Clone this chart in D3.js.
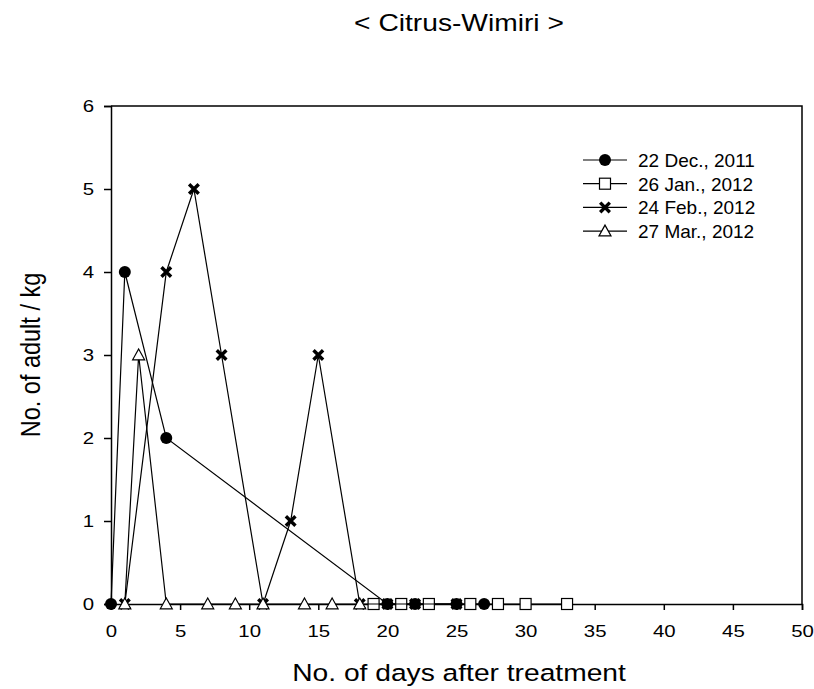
<!DOCTYPE html>
<html>
<head>
<meta charset="utf-8">
<script src="https://cdn.jsdelivr.net/npm/d3@7"></script>
<style>
  body { margin: 0; background: #fff; }
  text { font-family: "Liberation Sans", Arial, sans-serif; fill: #000; }
</style>
</head>
<body>
<div class="canvas"></div>
<script>
// data
const decDays = [0, 1, 4, 20, 22, 25, 27];
const decVals = [0, 4, 2, 0, 0, 0, 0];
const janDays = [19, 21, 23, 26, 28, 30, 33];
const janVals = [0, 0, 0, 0, 0, 0, 0];
const febDays = [1, 4, 6, 8, 11, 13, 15, 18, 20, 22, 25];
const febVals = [0, 4, 5, 3, 0, 1, 3, 0, 0, 0, 0];
const marDays = [1, 2, 4, 7, 9, 11, 14, 16, 18];
const marVals = [0, 3, 0, 0, 0, 0, 0, 0, 0];

const seriesNames = ['22 Dec., 2011', '26 Jan., 2012', '24 Feb., 2012', '27 Mar., 2012'];
const xTicks = [0, 5, 10, 15, 20, 25, 30, 35, 40, 45, 50];
const yTicks = [0, 1, 2, 3, 4, 5, 6];

const series = [
  {name: seriesNames[0], sym: 'circle', days: decDays, vals: decVals},
  {name: seriesNames[1], sym: 'square', days: janDays, vals: janVals},
  {name: seriesNames[2], sym: 'cross', days: febDays, vals: febVals},
  {name: seriesNames[3], sym: 'triangle', days: marDays, vals: marVals}
];

// dimensions
const width = 814, height = 689;
const margin = {top: 106, right: 12, bottom: 85, left: 111};
const graphWidth = width - margin.left - margin.right;
const graphHeight = height - margin.top - margin.bottom;
const stretch = 1.2; // the picture's text is a bit wide

const svg = d3.select('.canvas')
  .append('svg')
  .attr('width', width)
  .attr('height', height);

const graph = svg.append('g')
  .attr('transform', `translate(${margin.left},${margin.top})`);

// scales
const x = d3.scaleLinear().domain([0, 50]).range([0, graphWidth]);
const y = d3.scaleLinear().domain([0, 6]).range([graphHeight, 0]);

// frame (top and right)
graph.append('path')
  .attr('d', `M0,0H${graphWidth}V${graphHeight}`)
  .attr('fill', 'none')
  .attr('stroke', '#000')
  .attr('stroke-width', 1.5);

// axes
const xAxis = d3.axisBottom(x).tickValues(xTicks).tickSize(6).tickPadding(15).tickFormat(d3.format('d'));
const yAxis = d3.axisLeft(y).tickValues(yTicks).tickSize(7).tickPadding(7).tickFormat(d3.format('d'));

const xAxisGroup = graph.append('g')
  .attr('transform', `translate(0,${graphHeight})`)
  .call(xAxis);
const yAxisGroup = graph.append('g').call(yAxis);

[xAxisGroup, yAxisGroup].forEach(g => {
  g.select('.domain').attr('stroke-width', 1.5);
  g.selectAll('.tick line').attr('stroke-width', 1.5);
  g.selectAll('text')
    .style('font-size', '17px')
    .style('font-family', '"Liberation Sans", Arial, sans-serif')
    .attr('transform', `scale(${stretch},1)`);
});

// markers
const drawMarker = (sel, sym, cx, cy) => {
  if (sym === 'circle') {
    sel.append('circle').attr('cx', cx).attr('cy', cy).attr('r', 6).attr('fill', '#000');
  } else if (sym === 'square') {
    sel.append('rect').attr('x', cx - 5.5).attr('y', cy - 5.5).attr('width', 11).attr('height', 11)
      .attr('fill', '#fff').attr('stroke', '#000').attr('stroke-width', 1.2);
  } else if (sym === 'cross') {
    const s = 4.8;
    sel.append('path')
      .attr('d', `M${cx - s},${cy - s}L${cx + s},${cy + s}M${cx - s},${cy + s}L${cx + s},${cy - s}`)
      .attr('stroke', '#000').attr('stroke-width', 3.4).attr('fill', 'none');
  } else {
    const s = 6;
    sel.append('path')
      .attr('d', `M${cx},${cy - s}L${cx + s},${cy + s * 0.8}L${cx - s},${cy + s * 0.8}Z`)
      .attr('fill', '#fff').attr('stroke', '#000').attr('stroke-width', 1.2);
  }
};

const line = d3.line()
  .x(d => x(d[0]))
  .y(d => y(d[1]));

series.forEach(s => {
  const pts = s.days.map((d, i) => [d, s.vals[i]]);
  const g = graph.append('g');
  g.append('path')
    .datum(pts)
    .attr('d', line)
    .attr('fill', 'none')
    .attr('stroke', '#000')
    .attr('stroke-width', 1.2);
  pts.forEach(p => drawMarker(g, s.sym, x(p[0]), y(p[1])));
});

// legend
const legend = svg.append('g');
series.forEach((s, i) => {
  const ly = 160 + i * 23.7;
  legend.append('line')
    .attr('x1', 583).attr('x2', 627).attr('y1', ly).attr('y2', ly)
    .attr('stroke', '#000').attr('stroke-width', 1.2);
  drawMarker(legend, s.sym, 605, ly);
  legend.append('text')
    .attr('x', 638).attr('y', ly)
    .attr('dy', '0.36em')
    .style('font-size', '19px')
    .text(s.name);
});

// titles
svg.append('text')
  .attr('transform', `translate(459,31) scale(${stretch},1)`)
  .attr('text-anchor', 'middle')
  .style('font-size', '23.5px')
  .text('< Citrus-Wimiri >');

svg.append('text')
  .attr('transform', `translate(459,681) scale(${stretch},1)`)
  .attr('text-anchor', 'middle')
  .style('font-size', '23.5px')
  .text('No. of days after treatment');

svg.append('text')
  .attr('transform', `translate(40,${margin.top + graphHeight / 2}) scale(${stretch},1) rotate(-90)`)
  .attr('text-anchor', 'middle')
  .style('font-size', '23.5px')
  .text('No. of adult / kg');
</script>
</body>
</html>
